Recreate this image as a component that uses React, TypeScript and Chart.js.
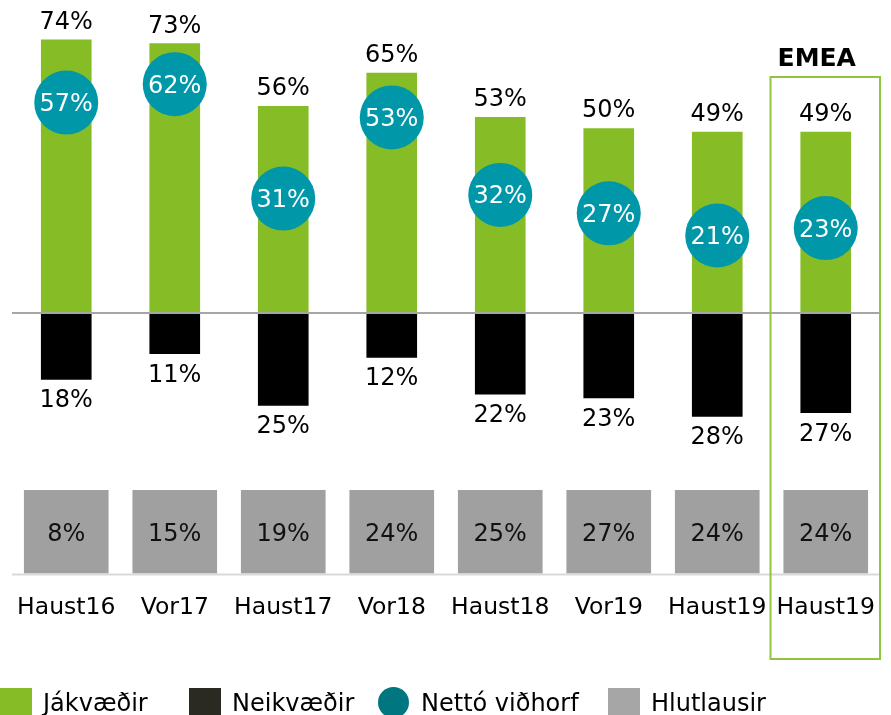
import React, { useEffect, useRef } from 'react';
import { Chart, registerables } from 'chart.js';

Chart.register(...registerables);

const categories = ['Haust16', 'Vor17', 'Haust17', 'Vor18', 'Haust18', 'Vor19', 'Haust19', 'Haust19'];
const jakvaedir = [74, 73, 56, 65, 53, 50, 49, 49];
const neikvaedir = [18, 11, 25, 12, 22, 23, 28, 27];
const netto = [57, 62, 31, 53, 32, 27, 21, 23];
const hlutlausir = [8, 15, 19, 24, 25, 27, 24, 24];
const highlightLabel = 'EMEA';
const highlightIndex = 7;
const legendLabels = ['Jákvæðir', 'Neikvæðir', 'Nettó viðhorf', 'Hlutlausir'];

const FONT = "'DejaVu Sans', Verdana, sans-serif";
const GREEN = '#86bc25';
const BLACK = '#000000';
const TEAL = '#0097a9';
const GRAY = '#a0a0a0';

const Y_MIN = -70.7;
const Y_MAX = 84.8;
const BOX_RANGE: [number, number] = [-70.5, -48];

const legendItems = [
  { x: 0, color: GREEN, shape: 'rect' },
  { x: 189, color: '#2a2a22', shape: 'rect' },
  { x: 378, color: '#007680', shape: 'circle' },
  { x: 608, color: '#a6a6a6', shape: 'rect' },
];

const overlayPlugin = {
  id: 'overlay',
  afterDatasetsDraw(chart: any) {
    const ctx = chart.ctx as CanvasRenderingContext2D;
    const { left, right, bottom } = chart.chartArea;
    const ys = chart.scales.y;
    const xs = chart.scales.x;
    ctx.save();

    // zero line
    const y0 = ys.getPixelForValue(0);
    ctx.strokeStyle = '#a6a6a6';
    ctx.lineWidth = 2;
    ctx.beginPath();
    ctx.moveTo(left, y0);
    ctx.lineTo(right, y0);
    ctx.stroke();

    // axis baseline
    ctx.strokeStyle = '#d9d9d9';
    ctx.beginPath();
    ctx.moveTo(left, bottom + 0.5);
    ctx.lineTo(right, bottom + 0.5);
    ctx.stroke();

    ctx.textAlign = 'center';
    ctx.textBaseline = 'alphabetic';

    // category labels
    ctx.font = `23.5px ${FONT}`;
    ctx.fillStyle = '#000';
    categories.forEach((c, i) => {
      ctx.fillText(c, xs.getPixelForValue(i), bottom + 40);
    });

    ctx.font = `24px ${FONT}`;
    chart.getDatasetMeta(0).data.forEach((el: any, i: number) => {
      ctx.fillStyle = '#000';
      ctx.fillText(`${jakvaedir[i]}%`, el.x, el.y - 11);
    });
    chart.getDatasetMeta(1).data.forEach((el: any, i: number) => {
      ctx.fillStyle = '#000';
      ctx.fillText(`${neikvaedir[i]}%`, el.x, el.y + 28);
    });
    chart.getDatasetMeta(2).data.forEach((el: any, i: number) => {
      ctx.fillStyle = '#111';
      ctx.fillText(`${hlutlausir[i]}%`, el.x, (el.y + el.base) / 2 + 9);
    });
    chart.getDatasetMeta(3).data.forEach((el: any, i: number) => {
      ctx.fillStyle = '#ffffff';
      ctx.fillText(`${netto[i]}%`, el.x, el.y + 8.5);
    });

    // highlight box
    const cx = xs.getPixelForValue(highlightIndex);
    const catW = (right - left) / categories.length;
    ctx.strokeStyle = '#8dc63f';
    ctx.lineWidth = 2;
    const bx = cx - catW / 2 - 1;
    ctx.strokeRect(bx, 77, right - bx, 582);
    ctx.fillStyle = '#000';
    ctx.font = `bold 25px ${FONT}`;
    ctx.fillText(highlightLabel, cx - 9, 66);

    // legend
    ctx.font = `24px ${FONT}`;
    ctx.textAlign = 'left';
    legendItems.forEach((it, i) => {
      ctx.fillStyle = it.color;
      if (it.shape === 'rect') {
        ctx.fillRect(it.x, 688, 32, 32);
      } else {
        ctx.beginPath();
        ctx.arc(it.x + 15.5, 702.5, 15.5, 0, Math.PI * 2);
        ctx.fill();
      }
      ctx.fillStyle = '#000';
      ctx.fillText(legendLabels[i], it.x + 43, 711);
    });

    ctx.restore();
  },
};

export default function App() {
  const ref = useRef<HTMLCanvasElement | null>(null);
  useEffect(() => {
    if (!ref.current) return;
    const chart = new Chart(ref.current, {
      type: 'bar',
      data: {
        labels: categories,
        datasets: [
          {
            label: legendLabels[0],
            data: jakvaedir,
            backgroundColor: GREEN,
            barThickness: 50,
            grouped: false,
            order: 2,
          } as any,
          {
            label: legendLabels[1],
            data: neikvaedir.map((v) => -v),
            backgroundColor: BLACK,
            barThickness: 50,
            grouped: false,
            order: 2,
          } as any,
          {
            label: legendLabels[3],
            data: hlutlausir.map(() => BOX_RANGE),
            backgroundColor: GRAY,
            barThickness: 84,
            grouped: false,
            order: 2,
          } as any,
          {
            type: 'line',
            label: legendLabels[2],
            data: netto,
            showLine: false,
            pointRadius: 32,
            pointHoverRadius: 32,
            pointBackgroundColor: TEAL,
            pointBorderWidth: 0,
            borderWidth: 0,
            backgroundColor: TEAL,
            clip: false,
            order: 0,
          } as any,
        ],
      },
      options: {
        responsive: false,
        animation: false,
        layout: { autoPadding: false, padding: { left: 12, right: 11, top: 0, bottom: 141 } },
        plugins: {
          legend: { display: false },
          tooltip: { enabled: false },
        },
        scales: {
          x: {
            display: false,
            offset: true,
          },
          y: {
            display: false,
            min: Y_MIN,
            max: Y_MAX,
          },
        },
      },
      plugins: [overlayPlugin],
    });
    return () => chart.destroy();
  }, []);

  return (
    <div style={{ position: 'absolute', left: 0, top: 0, width: 891, height: 715, background: '#fff' }}>
      <canvas ref={ref} width={891} height={715} style={{ display: 'block' }} />
    </div>
  );
}
